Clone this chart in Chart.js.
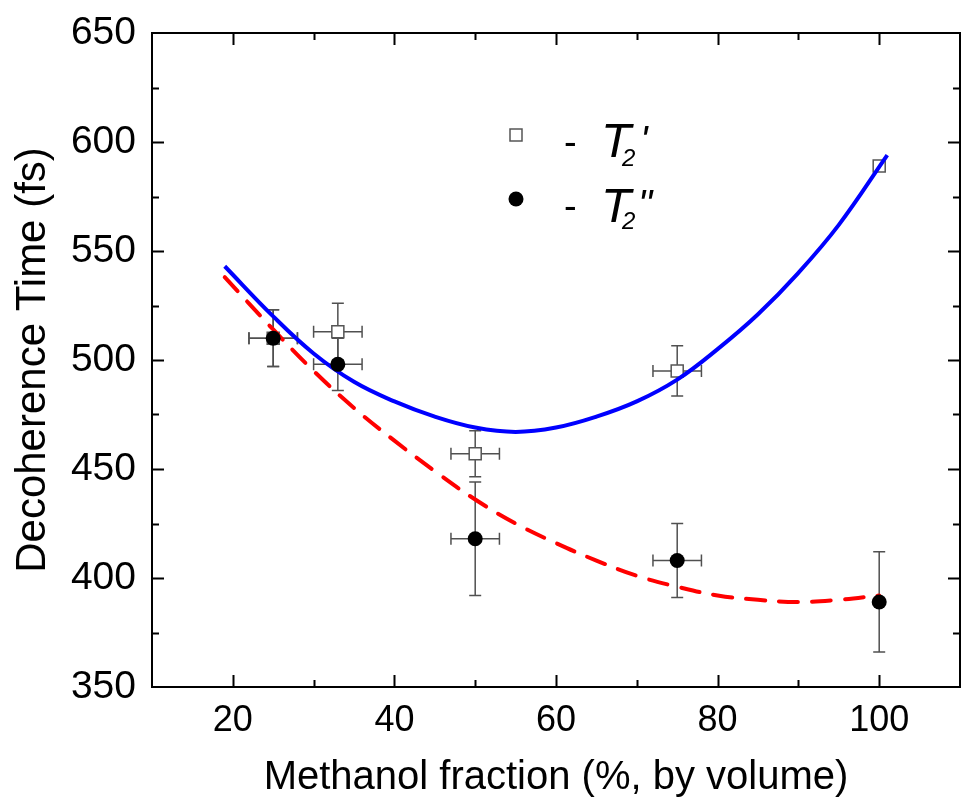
<!DOCTYPE html>
<html>
<head>
<meta charset="utf-8">
<script src="https://cdn.jsdelivr.net/npm/chart.js@4"></script>
<style>
  html, body { margin: 0; padding: 0; background: #fff; overflow: hidden; }
  #wrap { width: 961px; height: 806px; position: relative; }
  canvas { display: block; }
</style>
</head>
<body>
<div id="wrap"><canvas id="grafico"></canvas></div>
<script>
// measured points
const fracao = [25, 33, 50, 75, 100];
const t2Linha = [510, 513, 457, 495, 589];
const t2LinhaErr = [13, 13, 10.5, 11.5, 2];
const t2Duplo = [510, 498, 418, 408, 389];
const t2DuploErr = [13, 12, 26, 17, 23];
const fracaoErr = [3, 3, 3, 3, 0];

// fitted curves, sampled
const ajusteX = [19, 25, 30, 35, 40, 45, 50, 55, 60, 65, 70, 75, 80, 85, 90, 95, 101];
const ajusteAzul = [543, 520, 503, 490, 481, 474, 469, 467, 469, 474, 481, 491, 505, 521, 540, 562, 594];
const ajusteVermX = [19, 25, 30, 35, 40, 45, 50, 55, 60, 65, 70, 75, 80, 85, 90, 95, 100];
const ajusteVerm = [538, 514, 495, 478, 463, 449, 436, 425, 416, 408, 401, 396, 392, 390, 389, 390, 392];

const xTicks = [20, 40, 60, 80, 100];
const yTicks = [350, 400, 450, 500, 550, 600, 650];

const FONTE = '"Liberation Sans", Arial, sans-serif';

const pares = (xs, ys) => xs.map((x, i) => ({ x: x, y: ys[i] }));

// error bars under the markers
const barrasErro = {
  id: 'barrasErro',
  beforeDatasetsDraw(chart) {
    const ctx = chart.ctx, sx = chart.scales.x, sy = chart.scales.y;
    ctx.save();
    ctx.strokeStyle = '#505050';
    ctx.lineWidth = 1.5;
    const cap = 6;
    const series = [[t2Linha, t2LinhaErr], [t2Duplo, t2DuploErr]];
    series.forEach(([vals, errs]) => {
      fracao.forEach((x, i) => {
        const px = sx.getPixelForValue(x);
        const py = sy.getPixelForValue(vals[i]);
        const top = sy.getPixelForValue(vals[i] + errs[i]);
        const bot = sy.getPixelForValue(vals[i] - errs[i]);
        ctx.beginPath();
        ctx.moveTo(px, top); ctx.lineTo(px, bot);
        ctx.moveTo(px - cap, top); ctx.lineTo(px + cap, top);
        ctx.moveTo(px - cap, bot); ctx.lineTo(px + cap, bot);
        if (fracaoErr[i] > 0) {
          const l = sx.getPixelForValue(x - fracaoErr[i]);
          const r = sx.getPixelForValue(x + fracaoErr[i]);
          ctx.moveTo(l, py); ctx.lineTo(r, py);
          ctx.moveTo(l, py - cap); ctx.lineTo(l, py + cap);
          ctx.moveTo(r, py - cap); ctx.lineTo(r, py + cap);
        }
        ctx.stroke();
      });
    });
    ctx.restore();
  }
};

// frame with inward ticks on all four sides, plus the legend
const moldura = {
  id: 'moldura',
  afterDraw(chart) {
    const ctx = chart.ctx, a = chart.chartArea;
    const sx = chart.scales.x, sy = chart.scales.y;
    ctx.save();
    ctx.strokeStyle = '#000';
    ctx.lineWidth = 2;
    ctx.strokeRect(a.left, a.top, a.right - a.left, a.bottom - a.top);
    ctx.beginPath();
    sx.ticks.forEach(t => {
      const px = Math.round(sx.getPixelForValue(t.value)) + 0.5;
      const len = xTicks.includes(t.value) ? 12 : 7;
      if (t.value <= sx.min || t.value >= sx.max) return;
      ctx.moveTo(px, a.bottom); ctx.lineTo(px, a.bottom - len);
      ctx.moveTo(px, a.top); ctx.lineTo(px, a.top + len);
    });
    sy.ticks.forEach(t => {
      const py = Math.round(sy.getPixelForValue(t.value)) + 0.5;
      const len = yTicks.includes(t.value) ? 12 : 7;
      if (t.value <= sy.min || t.value >= sy.max) return;
      ctx.moveTo(a.left, py); ctx.lineTo(a.left + len, py);
      ctx.moveTo(a.right, py); ctx.lineTo(a.right - len, py);
    });
    ctx.stroke();

    // legend
    ctx.fillStyle = '#fff';
    ctx.strokeStyle = '#555';
    ctx.lineWidth = 1.5;
    ctx.fillRect(510, 129, 12, 12);
    ctx.strokeRect(510, 129, 12, 12);
    ctx.fillStyle = '#000';
    ctx.beginPath();
    ctx.arc(516, 199, 7.5, 0, Math.PI * 2);
    ctx.fill();

    ctx.textBaseline = 'alphabetic';
    ctx.textAlign = 'left';
    ctx.font = '38px ' + FONTE;
    ctx.fillText('-', 564, 155);
    ctx.fillText('-', 564, 219);
    ctx.font = 'italic 49px ' + FONTE;
    ctx.fillText('T', 601, 157);
    ctx.fillText('T', 601, 222);
    ctx.font = 'italic 24px ' + FONTE;
    ctx.fillText('2', 622, 166);
    ctx.fillText('2', 622, 229);
    ctx.font = 'italic 40px ' + FONTE;
    ctx.fillText("'", 640, 154);
    ctx.fillText('"', 638, 218);
    ctx.restore();
  }
};

const ctx = document.getElementById('grafico').getContext('2d');
new Chart(ctx, {
  type: 'scatter',
  data: {
    datasets: [
      {
        label: "T2'",
        data: pares(fracao, t2Linha),
        pointStyle: 'rect',
        pointRadius: 8.5,
        backgroundColor: '#fff',
        borderColor: '#555',
        borderWidth: 1.5,
        order: 4
      },
      {
        label: 'ajuste T2"',
        type: 'line',
        data: pares(ajusteVermX, ajusteVerm),
        borderColor: '#ff0000',
        borderWidth: 4,
        borderDash: [19, 14],
        borderCapStyle: 'round',
        pointRadius: 0,
        tension: 0.4,
        fill: false,
        order: 3
      },
      {
        label: "ajuste T2'",
        type: 'line',
        data: pares(ajusteX, ajusteAzul),
        borderColor: '#0000ff',
        borderWidth: 4,
        pointRadius: 0,
        tension: 0.4,
        fill: false,
        order: 2
      },
      {
        label: 'T2"',
        data: pares(fracao, t2Duplo),
        pointStyle: 'circle',
        pointRadius: 7.5,
        backgroundColor: '#000',
        borderColor: '#000',
        borderWidth: 0,
        order: 1
      }
    ]
  },
  options: {
    responsive: true,
    maintainAspectRatio: false,
    animation: false,
    layout: { autoPadding: false, padding: { top: 33, right: 1, left: 0, bottom: 0 } },
    plugins: { legend: { display: false }, tooltip: { enabled: false } },
    scales: {
      x: {
        type: 'linear',
        min: 10, max: 110,
        grid: { display: false, drawTicks: false },
        border: { display: false },
        ticks: {
          stepSize: 10,
          padding: 12,
          color: '#000',
          font: { family: FONTE, size: 36 },
          autoSkip: false,
          maxRotation: 0,
          callback: v => xTicks.includes(v) ? v : ''
        },
        title: {
          display: true,
          text: 'Methanol fraction (%, by volume)',
          color: '#000',
          font: { family: FONTE, size: 40 },
          padding: { top: 6 }
        },
        afterFit: s => { s.height = 119; s.paddingLeft = 0; s.paddingRight = 0; }
      },
      y: {
        min: 350, max: 650,
        grid: { display: false, drawTicks: false },
        border: { display: false },
        ticks: {
          stepSize: 25,
          padding: 16,
          color: '#000',
          font: { family: FONTE, size: 39 },
          autoSkip: false,
          callback: v => yTicks.includes(v) ? v : ''
        },
        title: {
          display: true,
          text: 'Decoherence Time (fs)',
          color: '#000',
          font: { family: FONTE, size: 42 },
          padding: { top: 8, bottom: 0 }
        },
        afterFit: s => { s.width = 152; s.paddingTop = 0; s.paddingBottom = 0; }
      }
    }
  },
  plugins: [barrasErro, moldura]
});
</script>
</body>
</html>
